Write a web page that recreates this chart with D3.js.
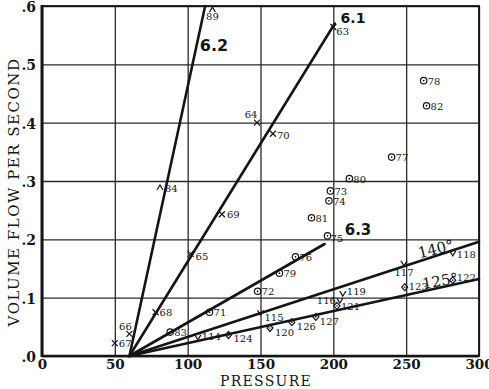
<!DOCTYPE html>
<html><head><meta charset="utf-8">
<script src="https://cdn.jsdelivr.net/npm/d3@7"></script>
<style>body{margin:0;background:#fff}svg{display:block}</style>
</head><body><svg id="c" width="489" height="389"></svg>
<script>
// ---- data ----
const xTicks = [0, 50, 100, 150, 200, 250, 300];
const yTicks = [0, 0.1, 0.2, 0.3, 0.4, 0.5, 0.6];
const yTickLabels = [".0", ".1", ".2", ".3", ".4", ".5", ".6"];

const lineNames  = ["6.2", "6.1", "6.3", "140°", "125°"];
const lineStartX = [60, 60, 60, 60, 60];
const lineStartY = [0, 0, 0, 0, 0];
const lineEndX   = [112, 201, 194, 300, 300];
const lineEndY   = [0.6, 0.57, 0.192, 0.196, 0.132];

const crossLabels = ["67", "66", "68", "65", "69", "70", "64", "63"];
const crossX = [50, 60, 78, 102, 123.5, 158.5, 147.6, 200];
const crossY = [0.022, 0.038, 0.075, 0.175, 0.243, 0.381, 0.40, 0.564];

const caretLabels = ["84", "89"];
const caretX = [81, 117];
const caretY = [0.288, 0.593];

const circleLabels = ["83", "71", "72", "79", "76", "75", "81", "74", "73", "80", "77", "78", "82"];
const circleX = [88, 115, 148, 163, 174, 196, 185, 197, 198, 211, 240, 262, 264];
const circleY = [0.041, 0.075, 0.111, 0.142, 0.17, 0.206, 0.237, 0.266, 0.283, 0.304, 0.341, 0.472, 0.429];

const diamondLabels = ["124", "120", "126", "127", "121", "123", "122"];
const diamondX = [128, 156.5, 171.5, 188, 202.5, 249, 282];
const diamondY = [0.036, 0.048, 0.058, 0.067, 0.086, 0.118, 0.13];

const vLabels = ["114", "115", "116", "119", "117", "118"];
const vX = [107, 150, 204.5, 206.5, 248.5, 282];
const vY = [0.031, 0.073, 0.094, 0.106, 0.158, 0.175];

// ---- label placement (style) ----
const labelOffset = {
  "67":[4,4,"start"], "66":[-4,-4,"middle"], "68":[4,4,"start"], "65":[5,6,"start"],
  "69":[5,4,"start"], "70":[4,5,"start"], "64":[-6,-5,"middle"], "63":[3,8,"start"],
  "84":[5,4,"start"], "89":[0,10,"middle"],
  "75":[3,6,"start"],
  "124":[5,7,"start"], "120":[5,8,"start"], "126":[5,8,"start"], "127":[4,8,"start"],
  "121":[4,4,"start"], "123":[4,3,"start"], "122":[4,1,"start"],
  "114":[4,2,"start"], "115":[4,8,"start"], "116":[-4,3,"end"], "119":[4,1,"start"],
  "117":[0,12,"middle"], "118":[4,4,"start"]
};

// ---- drawing ----
const svg = d3.select("#c");
const x = d3.scaleLinear().domain([0, 300]).range([42, 479]);
const y = d3.scaleLinear().domain([0, 0.6]).range([356, 6]);
const ink = "#151515";

// grid
svg.append("g").attr("transform", "translate(0,356)")
  .call(d3.axisBottom(x).tickValues(xTicks).tickSize(-350).tickFormat(""))
  .call(g => { g.select(".domain").remove(); g.selectAll("line").attr("stroke", "#2a2a2a").attr("stroke-width", 1.3); });
svg.append("g").attr("transform", "translate(42,0)")
  .call(d3.axisLeft(y).tickValues(yTicks).tickSize(-437).tickFormat(""))
  .call(g => { g.select(".domain").remove(); g.selectAll("line").attr("stroke", "#2a2a2a").attr("stroke-width", 1.3); });

// frame
svg.append("rect").attr("x", x(0)).attr("y", y(0.6)).attr("width", x(300) - x(0)).attr("height", y(0) - y(0.6))
  .attr("fill", "none").attr("stroke", ink).attr("stroke-width", 1.8);
svg.append("line").attr("x1", x(0)).attr("x2", x(0)).attr("y1", y(0.6) - 1).attr("y2", y(0) + 1)
  .attr("stroke", ink).attr("stroke-width", 3);
svg.append("line").attr("x1", x(0)).attr("x2", x(300)).attr("y1", y(0)).attr("y2", y(0))
  .attr("stroke", ink).attr("stroke-width", 2.4);

// tick labels
const tickFont = "'DejaVu Serif', serif";
svg.append("g").attr("transform", "translate(0,356)")
  .call(d3.axisBottom(x).tickValues(xTicks).tickSize(0).tickPadding(3).tickFormat(d3.format("d")))
  .call(g => { g.select(".domain").remove();
    g.selectAll("text").attr("font-family", tickFont).attr("font-size", 13.5).attr("font-weight", "bold").attr("fill", ink); });
svg.append("g").attr("transform", "translate(42,1)")
  .call(d3.axisLeft(y).tickValues(yTicks).tickSize(0).tickPadding(6).tickFormat((d, i) => yTickLabels[i]))
  .call(g => { g.select(".domain").remove();
    g.selectAll("text").attr("font-family", tickFont).attr("font-size", 14).attr("font-weight", "bold").attr("fill", ink); });

// axis titles
svg.append("text").attr("x", 266).attr("y", 385.5).attr("text-anchor", "middle")
  .attr("font-family", tickFont).attr("font-size", 14).attr("letter-spacing", 1.3).attr("fill", ink).text("PRESSURE");
svg.append("text").attr("transform", "translate(19,192) rotate(-90)").attr("text-anchor", "middle")
  .attr("font-family", tickFont).attr("font-size", 15).attr("letter-spacing", 1.5).attr("fill", ink).text("VOLUME FLOW PER SECOND");

// lines
const lineData = lineNames.map((n, i) => ({ n, x1: lineStartX[i], y1: lineStartY[i], x2: lineEndX[i], y2: lineEndY[i] }));
svg.append("g").selectAll("line").data(lineData).join("line")
  .attr("x1", d => x(d.x1)).attr("y1", d => y(d.y1)).attr("x2", d => x(d.x2)).attr("y2", d => y(d.y2))
  .attr("stroke", ink).attr("stroke-width", 2.6).attr("stroke-linecap", "round");

// line labels
const lineLabelStyle = {
  "6.2": { px: 214, py: 51, rot: 0, size: 16, fam: "'DejaVu Sans', sans-serif", w: "bold" },
  "6.1": { px: 353, py: 23, rot: 0, size: 14, fam: "'DejaVu Sans', sans-serif", w: "bold" },
  "6.3": { px: 358, py: 235, rot: 0, size: 15, fam: "'DejaVu Sans', sans-serif", w: "bold" },
  "140°": { px: 437, py: 254, rot: -14, size: 15, fam: "'DejaVu Serif', serif", w: "normal" },
  "125°": { px: 441, py: 286, rot: -10, size: 15, fam: "'DejaVu Serif', serif", w: "normal" }
};
svg.append("g").selectAll("text").data(lineNames).join("text")
  .attr("transform", d => `translate(${lineLabelStyle[d].px},${lineLabelStyle[d].py}) rotate(${lineLabelStyle[d].rot})`)
  .attr("text-anchor", "middle").attr("font-family", d => lineLabelStyle[d].fam)
  .attr("font-size", d => lineLabelStyle[d].size).attr("font-weight", d => lineLabelStyle[d].w)
  .attr("fill", ink).text(d => d);

// markers
const mk = svg.append("g").attr("stroke", ink).attr("fill", "none").attr("stroke-width", 1.2);
function pts(labels, xs, ys) { return labels.map((l, i) => ({ l, px: x(xs[i]), py: y(ys[i]) })); }
const crosses = pts(crossLabels, crossX, crossY);
const carets = pts(caretLabels, caretX, caretY);
const circles = pts(circleLabels, circleX, circleY);
const diamonds = pts(diamondLabels, diamondX, diamondY);
const vees = pts(vLabels, vX, vY);

mk.selectAll(".cr").data(crosses).join("path")
  .attr("d", d => `M${d.px-3},${d.py-3}L${d.px+3},${d.py+3}M${d.px-3},${d.py+3}L${d.px+3},${d.py-3}`);
mk.selectAll(".ca").data(carets).join("path")
  .attr("d", d => `M${d.px-3},${d.py+2}L${d.px},${d.py-3}L${d.px+3},${d.py+2}`);
mk.selectAll(".ci").data(circles).join("circle")
  .attr("cx", d => d.px).attr("cy", d => d.py).attr("r", 3.2);
mk.selectAll(".cd").data(circles).join("circle")
  .attr("cx", d => d.px).attr("cy", d => d.py).attr("r", 0.9).attr("fill", ink).attr("stroke", "none");
mk.selectAll(".di").data(diamonds).join("path")
  .attr("d", d => `M${d.px},${d.py-3.5}L${d.px+3},${d.py}L${d.px},${d.py+3.5}L${d.px-3},${d.py}Z`);
mk.selectAll(".dd").data(diamonds).join("circle")
  .attr("cx", d => d.px).attr("cy", d => d.py).attr("r", 0.8).attr("fill", ink).attr("stroke", "none");
mk.selectAll(".ve").data(vees).join("path")
  .attr("d", d => `M${d.px-3},${d.py-3}L${d.px},${d.py+2}L${d.px+3},${d.py-3}`);

// point labels
const allPts = [].concat(crosses, carets, circles, diamonds, vees);
svg.append("g").selectAll("text").data(allPts).join("text")
  .attr("x", d => d.px + (labelOffset[d.l] ? labelOffset[d.l][0] : 4))
  .attr("y", d => d.py + (labelOffset[d.l] ? labelOffset[d.l][1] : 4))
  .attr("text-anchor", d => labelOffset[d.l] ? labelOffset[d.l][2] : "start")
  .attr("font-family", "'DejaVu Serif', serif").attr("font-size", 10).attr("fill", ink)
  .text(d => d.l);
</script></body></html>
